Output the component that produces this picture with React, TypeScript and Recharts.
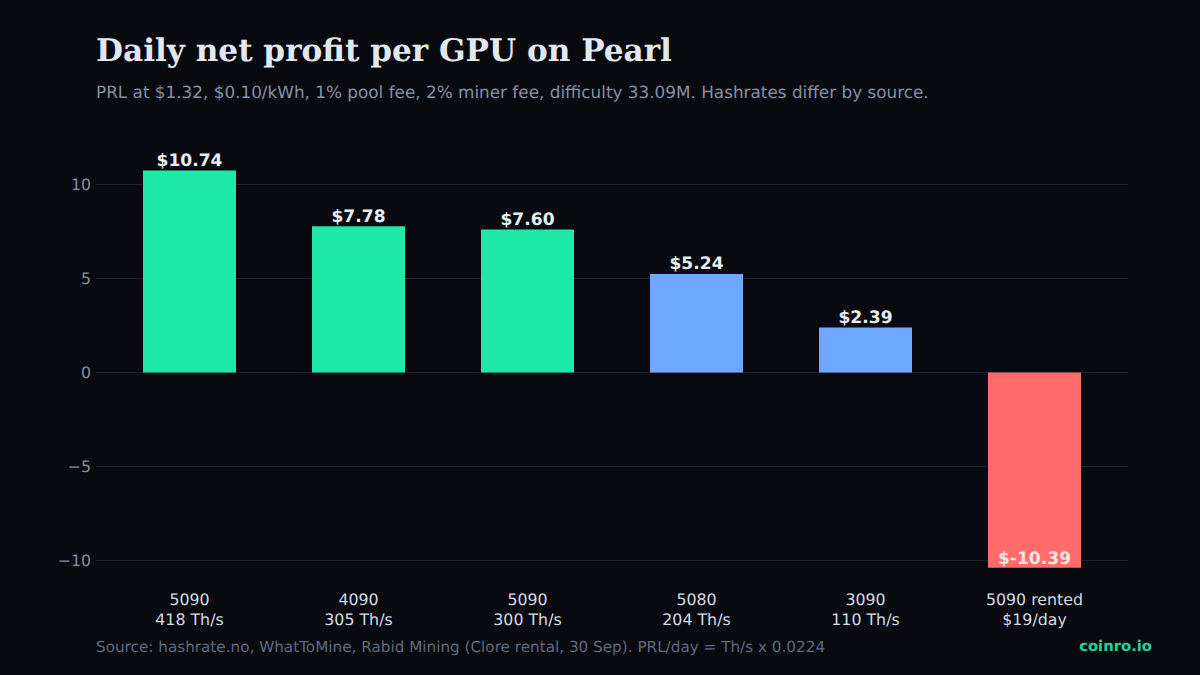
import React from "react";
import { BarChart, Bar, XAxis, YAxis, CartesianGrid, Cell, LabelList } from "recharts";

const FONT = "'DejaVu Sans', sans-serif";
const gpus = ["5090", "4090", "5090", "5080", "3090", "5090 rented"];
const rates = ["418 Th/s", "305 Th/s", "300 Th/s", "204 Th/s", "110 Th/s", "$19/day"];
const profits = [10.74, 7.78, 7.6, 5.24, 2.39, -10.39];
const labels = ["$10.74", "$7.78", "$7.60", "$5.24", "$2.39", "$-10.39"];
const colors = ["#1fe9a6", "#1fe9a6", "#1fe9a6", "#6ea8fe", "#6ea8fe", "#ff6b6b"];
const yTicks = [-10, -5, 0, 5, 10];
const data = gpus.map((g, i) => ({ key: String(i), gpu: g, rate: rates[i], profit: profits[i], label: labels[i] }));

const XTick = (p: any) => {
  const d = data[Number(p.payload.value)];
  return (
    <text x={p.x} textAnchor="middle" fontFamily={FONT} fontSize={15.8} fill="#d5dbe5">
      <tspan x={p.x} y={p.y + 18}>{d.gpu}</tspan>
      <tspan x={p.x} y={p.y + 38}>{d.rate}</tspan>
    </text>
  );
};

const YTick = (p: any) => (
  <text x={p.x} y={p.y + 5.5} textAnchor="end" fontFamily={FONT} fontSize={15.8} fill="#8590a3">
    {String(p.payload.value).replace("-", "\u2212")}
  </text>
);

const BarLabel = (p: any) => {
  const v = profits[p.index];
  const y = v >= 0 ? p.y - 4.5 : Math.max(p.y, p.y + p.height) - 4;
  return (
    <text x={p.x + p.width / 2} y={y} textAnchor="middle" fontFamily={FONT} fontSize={17.1} fontWeight={700} fill={v >= 0 ? "#e8edf4" : "#fbe4e4"}>
      {labels[p.index]}
    </text>
  );
};

export default function App() {
  return (
    <div style={{ position: "absolute", left: 0, top: 0, width: 1200, height: 675, background: "#080a10", overflow: "hidden", textRendering: "geometricPrecision" }}>
      <div style={{ position: "absolute", left: 96, top: 33, fontFamily: "'DejaVu Serif', serif", fontWeight: 700, fontSize: 31.13, color: "#e2e8f0", whiteSpace: "nowrap" }}>Daily net profit per GPU on Pearl</div>
      <div style={{ position: "absolute", left: 96, top: 81.5, fontFamily: FONT, fontSize: 16.84, color: "#8590a3", whiteSpace: "nowrap" }}>PRL at $1.32, $0.10/kWh, 1% pool fee, 2% miner fee, difficulty 33.09M. Hashrates differ by source.</div>
      <div style={{ position: "absolute", left: 0, top: 0 }}>
        <BarChart width={1200} height={675} data={data} barSize={93} margin={{ top: 146.9, right: 72, bottom: 35.7, left: 0 }}>
          <CartesianGrid vertical={false} stroke="#1c2130" strokeWidth={1} horizontalValues={yTicks} />
          <XAxis dataKey="key" type="category" axisLine={false} tickLine={false} tick={XTick} interval={0} height={60} padding={{ left: 9, right: 9 }} />
          <YAxis width={96} domain={[-11, 12]} ticks={yTicks} interval={0} axisLine={false} tickLine={false} tick={YTick} tickMargin={5} tickSize={0} />
          <Bar dataKey="profit" isAnimationActive={false}>
            {data.map((d, i) => <Cell key={d.key} fill={colors[i]} />)}
            <LabelList dataKey="profit" content={BarLabel} />
          </Bar>
        </BarChart>
      </div>
      <div style={{ position: "absolute", left: 96, top: 637.5, fontFamily: FONT, fontSize: 15.23, color: "#5f6b80", whiteSpace: "nowrap" }}>Source: hashrate.no, WhatToMine, Rabid Mining (Clore rental, 30 Sep). PRL/day = Th/s x 0.0224</div>
      <div style={{ position: "absolute", right: 48, top: 638, fontFamily: FONT, fontSize: 14.8, fontWeight: 700, color: "#1fd39a", whiteSpace: "nowrap" }}>coinro.io</div>
    </div>
  );
}
